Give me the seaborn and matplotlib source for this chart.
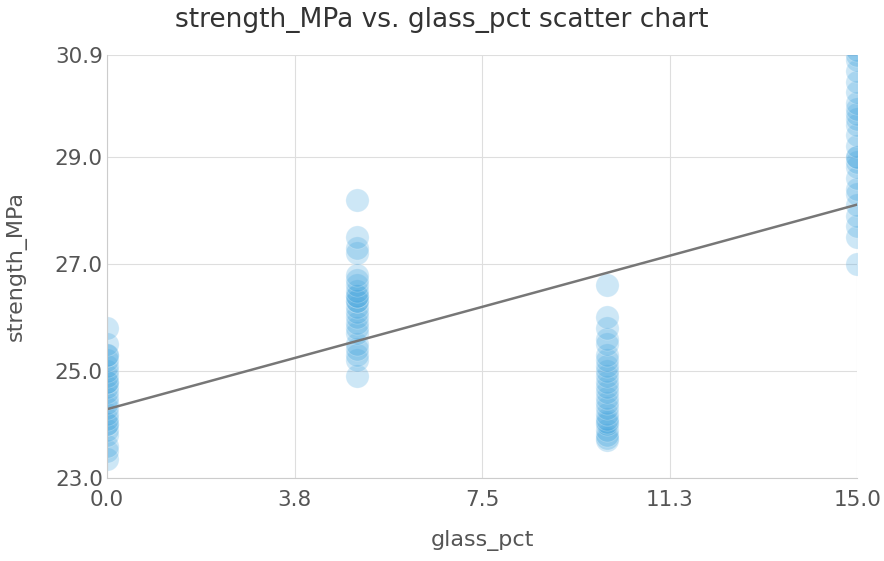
import numpy as np
import pandas as pd
import matplotlib
matplotlib.use("Agg")
import matplotlib.pyplot as plt
import seaborn as sns

# values
glass_levels = [0, 5, 10, 15]
strength_0 = [23.35, 23.5, 23.6, 23.8, 23.9, 24.0, 24.0, 24.1, 24.2, 24.3, 24.4, 24.5,
              24.6, 24.7, 24.8, 24.8, 24.9, 25.0, 25.1, 25.2, 25.3, 25.3, 25.5, 25.8]
strength_5 = [24.9, 25.2, 25.3, 25.4, 25.5, 25.7, 25.8, 25.9, 26.0, 26.1, 26.2, 26.3,
              26.3, 26.4, 26.4, 26.5, 26.6, 26.7, 26.8, 27.2, 27.3, 27.5, 28.2]
strength_10 = [23.7, 23.75, 23.8, 23.9, 24.0, 24.05, 24.1, 24.2, 24.3, 24.4, 24.5, 24.6,
               24.7, 24.8, 24.9, 25.0, 25.1, 25.2, 25.3, 25.5, 25.6, 25.8, 26.0, 26.6]
strength_15 = [27.0, 27.5, 27.7, 27.9, 28.1, 28.3, 28.4, 28.6, 28.8, 28.9, 29.0, 29.0,
               29.2, 29.4, 29.6, 29.7, 29.8, 29.9, 30.0, 30.2, 30.4, 30.6, 30.8, 30.9, 31.0]

x_ticks = [0, 3.75, 7.5, 11.25, 15]
x_tick_labels = ["0.0", "3.8", "7.5", "11.3", "15.0"]
y_ticks = [23.0, 25.0, 27.0, 29.0, 30.9]
y_tick_labels = ["23.0", "25.0", "27.0", "29.0", "30.9"]


def build_frame():
    cols = [strength_0, strength_5, strength_10, strength_15]
    rows = []
    for g, vals in zip(glass_levels, cols):
        for v in vals:
            rows.append({"glass_pct": g, "strength_MPa": v})
    return pd.DataFrame(rows)


def main():
    data = build_frame()
    sns.set_style("whitegrid", {"grid.color": "#dedede", "axes.edgecolor": "#cccccc"})
    plt.rcParams["font.family"] = ["DejaVu Sans"]

    fig, ax = plt.subplots(figsize=(8.84, 5.61), dpi=100)
    fig.subplots_adjust(left=0.121, right=0.97, top=0.902, bottom=0.148)

    sns.scatterplot(data=data, x="glass_pct", y="strength_MPa", ax=ax,
                    color="#40a3de", alpha=0.26, s=280, edgecolor="white", linewidth=0.6)
    sns.regplot(data=data, x="glass_pct", y="strength_MPa", ax=ax, scatter=False,
                ci=None, truncate=True, line_kws={"color": "#777777", "linewidth": 1.8})

    ax.set_xlim(0, 15)
    ax.set_ylim(23.0, 30.9)
    # points at the edges are cut by the plot box, as in the original
    for coll in ax.collections:
        coll.set_clip_on(True)
        coll.set_clip_path(ax.patch)

    ax.set_xticks(x_ticks)
    ax.set_xticklabels(x_tick_labels)
    ax.set_yticks(y_ticks)
    ax.set_yticklabels(y_tick_labels)
    ax.tick_params(axis="both", labelsize=15.5, colors="#555555", length=0)
    ax.tick_params(axis="y", pad=3)
    ax.tick_params(axis="x", pad=9)
    for side in ["top", "right"]:
        ax.spines[side].set_visible(False)

    fig.suptitle("strength_MPa vs. glass_pct scatter chart", fontsize=19, color="#333333",
                 x=0.5, y=0.988, va="top")
    ax.set_xlabel("glass_pct", fontsize=16, color="#555555", labelpad=14)
    ax.set_ylabel("strength_MPa", fontsize=16, color="#555555", labelpad=20)

    plt.savefig("out.png", dpi=100)


if __name__ == "__main__":
    main()
